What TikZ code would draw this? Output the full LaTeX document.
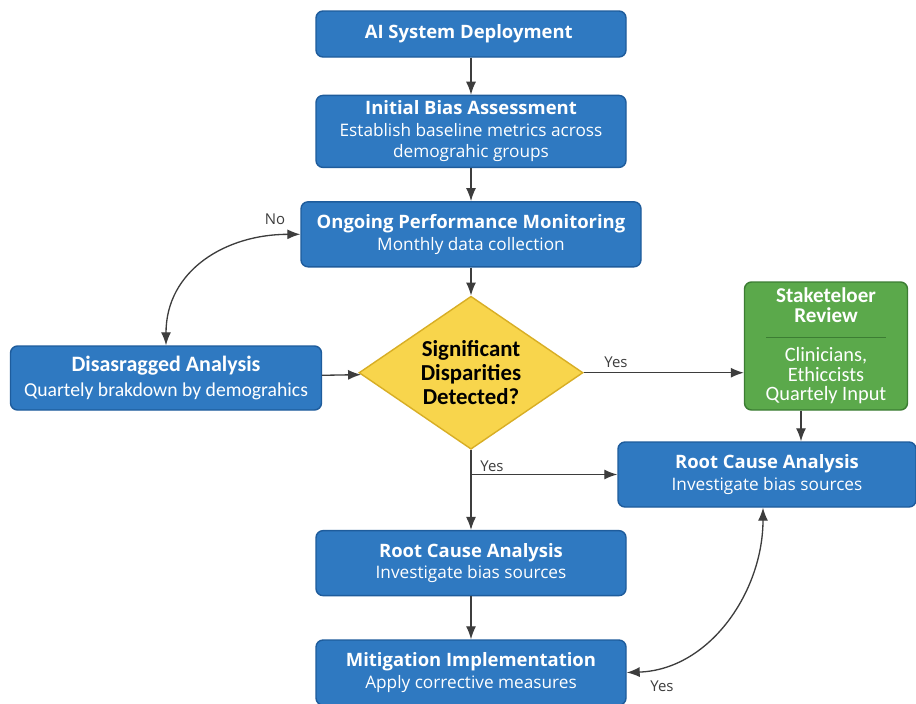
\documentclass[tikz,border=0pt]{standalone}
\usepackage{fontspec}
\setmainfont{Open Sans}
\newfontfamily\condfont{Carlito}
\usepackage{xcolor}
\usetikzlibrary{
    positioning,
    arrows.meta,
    shapes.geometric
}

\definecolor{stepblue}{HTML}{2F79C1}
\definecolor{stepblueedge}{HTML}{1E5C9C}
\definecolor{reviewgreen}{HTML}{5BA94B}
\definecolor{reviewgreenedge}{HTML}{3C7D33}
\definecolor{decisionyellow}{HTML}{F8D54C}
\definecolor{decisionedge}{HTML}{D8AE25}
\definecolor{flowgrey}{HTML}{3D3D3D}

\begin{document}
\begin{tikzpicture}[
    x=1cm, y=1cm,
    process/.style={
        rectangle,
        rounded corners=4pt,
        draw=stepblueedge,
        fill=stepblue,
        line width=0.8pt,
        text=white,
        align=center,
        minimum width=6.2cm,
        minimum height=1.3cm,
        inner sep=2pt,
        font=\fontsize{9.8}{12.2}\selectfont
    },
    review/.style={
        rectangle,
        rounded corners=4pt,
        draw=reviewgreenedge,
        fill=reviewgreen,
        line width=0.8pt,
        text=white,
        align=center,
        minimum width=3.26cm,
        minimum height=2.56cm,
        inner sep=2pt,
        font=\condfont\fontsize{11.6}{11.2}\selectfont
    },
    decision/.style={
        diamond,
        draw=decisionedge,
        fill=decisionyellow,
        line width=0.8pt,
        align=center,
        minimum width=4.48cm,
        minimum height=3.06cm,
        inner sep=0pt,
        aspect=1.46,
        font=\condfont\bfseries\fontsize{13}{13.6}\selectfont
    },
    tag/.style={
        font=\fontsize{8.5}{10}\selectfont,
        text=flowgrey,
        inner sep=1pt
    },
    arrow/.style={
        -{Latex[length=2.6mm,width=2mm]},
        draw=flowgrey,
        line width=0.75pt
    },
    twoway/.style={
        {Latex[length=2.6mm,width=2mm]}-{Latex[length=2.6mm,width=2mm]},
        draw=flowgrey,
        line width=0.75pt
    }
]

\fill[white] (0,0) rectangle (18.32,-14.08);
\useasboundingbox (0,0) rectangle (18.32,-14.08);

% ============================================================
% MAIN COLUMN
% ============================================================

\node[process, minimum height=0.92cm] (deploy) at (9.42,-0.68)
{
\textbf{\fontsize{10.5}{12}\selectfont AI System Deployment}
};

\node[process, minimum height=1.44cm, below=0.74cm of deploy] (assess)
{
\textbf{\fontsize{10.5}{12}\selectfont Initial Bias Assessment}\\
Establish baseline metrics across\\
demograhic groups
};

\node[process, minimum width=6.8cm, below=0.66cm of assess] (monitor)
{
\textbf{\fontsize{10.5}{12}\selectfont Ongoing Performance Monitoring}\\
Monthly data collection
};

\node[decision, below=0.56cm of monitor] (disparity)
{
Significant\\
Disparities\\
Detected?
};

% ============================================================
% SIDE BRANCHES
% ============================================================

\node[process, minimum width=6.22cm, minimum height=1.28cm,
      font=\condfont\fontsize{11.2}{14}\selectfont] (disagg) at (3.32,-7.56)
{
\textbf{\fontsize{12.5}{14}\selectfont Disasragged Analysis}\\
Quartely brakdown by demograhics
};

\node[review] (stakeholder) at (16.52,-6.92)
{
\textbf{\fontsize{12}{13.5}\selectfont Staketeloer}\\
\textbf{\fontsize{12}{13.5}\selectfont Review}\\[1pt]
{\color{reviewgreenedge}\rule[3pt]{2.4cm}{0.9pt}}\\[-1pt]
Clinicians,\\
Ethiccists\\
Quartely Input
};

\node[process, minimum width=5.96cm] (rootright) at (15.34,-9.49)
{
\textbf{\fontsize{10.5}{12}\selectfont Root Cause Analysis}\\
Investigate bias sources
};

% ============================================================
% LOWER COLUMN
% ============================================================

\node[process, below=1.6cm of disparity] (rootcentre)
{
\textbf{\fontsize{10.5}{12}\selectfont Root Cause Analysis}\\
Investigate bias sources
};

\node[process, below=0.86cm of rootcentre] (mitigate)
{
\textbf{\fontsize{10.5}{12}\selectfont Mitigation Implementation}\\
Apply corrective measures
};

\coordinate (split) at (disparity.south |- rootright.west);

% ============================================================
% LABELS
% ============================================================

\node[tag] (nolabel) at (5.5,-4.38) {No};
\node[tag] (yesright) at (12.32,-7.24) {Yes};
\node[tag] (yesdown) at (9.84,-9.32) {Yes};
\node[tag] (yesloop) at (13.24,-13.72) {Yes};

% ============================================================
% CONNECTIONS
% ============================================================

\draw[arrow] (deploy) -- (assess);
\draw[arrow] (assess) -- (monitor);
\draw[arrow] (monitor) -- (disparity);
\draw[arrow] (disagg) -- (disparity);
\draw[arrow] (disparity.east) -- (disparity.east -| stakeholder.west);
\draw[arrow] ([xshift=-0.5cm]stakeholder.south)
    -- ([xshift=-0.5cm]stakeholder.south |- rootright.north);
\draw[arrow] (disparity.south) -- (rootcentre);
\draw[arrow] (split) -- (rootright.west);
\draw[arrow] (rootcentre) -- (mitigate);

\draw[twoway] (disagg.north) to[out=90, in=180, looseness=1.1] (monitor.west);
\draw[twoway] (mitigate.east) to[out=2, in=-90] ([xshift=-0.08cm]rootright.south);

\end{tikzpicture}
\end{document}
